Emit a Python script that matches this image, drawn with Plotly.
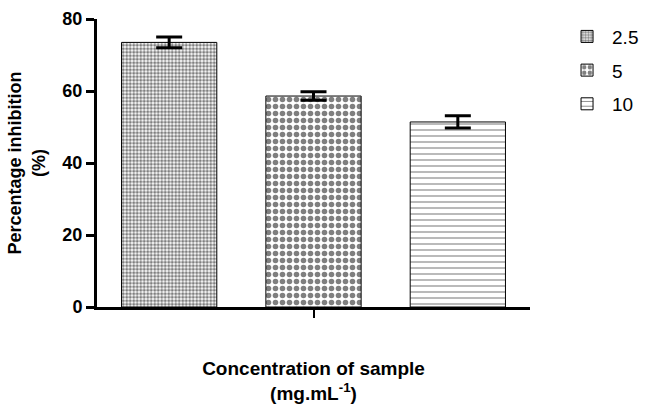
import plotly.graph_objects as go

categories = ["2.5", "5", "10"]
values = [73.5, 58.6, 51.4]
errors = [1.5, 1.2, 1.7]
patterns = [".", ".", "-"]
pattern_sizes = [3.5, 7, 6]
pattern_solidity = [0.6, 0.5, 0.18]

FONT = "Arial, Liberation Sans, sans-serif"

fig = go.Figure()
for name, v, e, sh, sz, so in zip(categories, values, errors, patterns, pattern_sizes, pattern_solidity):
    fig.add_trace(go.Bar(
        x=[""], y=[v], name=name, legendgroup=name,
        marker=dict(color="white", line=dict(color="black", width=1),
                    pattern=dict(shape=sh, size=sz, solidity=so, fgcolor="black",
                                 bgcolor="white", fillmode="overlay")),
        error_y=dict(type="data", array=[e], visible=True, color="black",
                     thickness=3, width=13),
    ))

fig.update_layout(
    width=647, height=405,
    margin=dict(l=97, r=117, t=19, b=98, autoexpand=False),
    plot_bgcolor="white", paper_bgcolor="white",
    barmode="group", bargap=0.0, bargroupgap=0.34,
    font=dict(family=FONT, color="black"),
    legend=dict(x=1.074, y=1.005, xanchor="left", yanchor="top",
                font=dict(size=19), tracegroupgap=6, traceorder="grouped",
                itemwidth=40),
    xaxis=dict(showline=True, linecolor="black", linewidth=3, ticks="outside",
               ticklen=8, tickwidth=2, tickcolor="black", range=[-0.5, 0.5],
               showticklabels=False, automargin=False,
               title=dict(text="<b>Concentration of sample</b><br><b>(mg.mL<sup>-1</sup>)</b>",
                          font=dict(size=19), standoff=45)),
    yaxis=dict(range=[0, 80], tickvals=[0, 20, 40, 60, 80], showline=True,
               linecolor="black", linewidth=3, ticks="outside", ticklen=8,
               tickwidth=3, tickcolor="black", showgrid=False, zeroline=False,
               automargin=False,
               tickfont=dict(size=18, weight="bold"),
               title=dict(text="<b>Percentage inhibition</b><br><b>(%)</b>",
                          font=dict(size=18), standoff=13)),
)

fig.write_html("out.html", config={"displayModeBar": False},
               post_script="document.body.style.margin='0';")
